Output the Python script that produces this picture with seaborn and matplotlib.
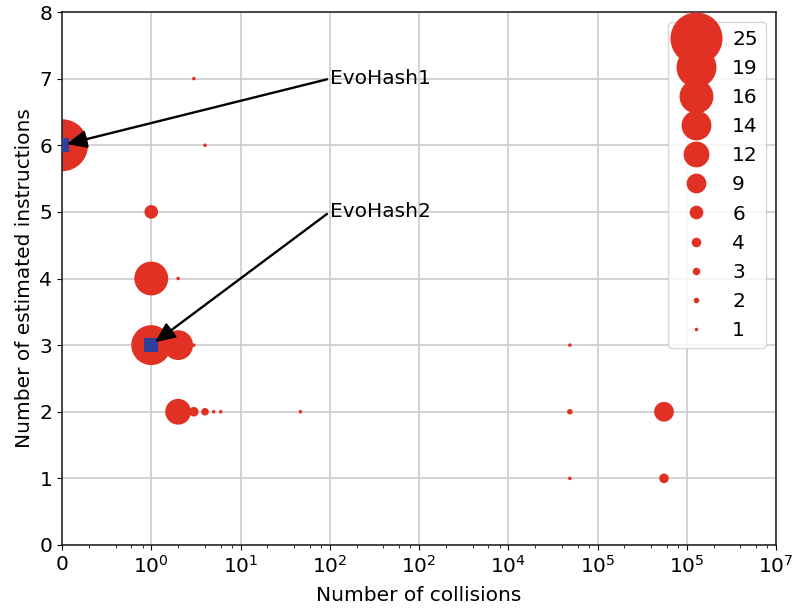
import matplotlib
matplotlib.use("Agg")
import matplotlib.pyplot as plt
from matplotlib.lines import Line2D
from matplotlib.ticker import FixedLocator, NullFormatter
import seaborn as sns
import pandas as pd

# Data: (collisions, estimated instructions, number of hash functions)
collisions = [0, 3, 4, 1, 1, 2, 1, 2, 3, 2, 3, 4, 5, 6, 47, 49000, 49000, 49000, 556000, 556000]
instructions = [6, 7, 6, 5, 4, 4, 3, 3, 3, 2, 2, 2, 2, 2, 2, 3, 2, 1, 2, 1]
counts = [25, 1, 1, 6, 16, 1, 19, 14, 1, 12, 4, 3, 1, 1, 1, 1, 2, 1, 9, 4]

# Highlighted evolved hashes
evo_names = ["EvoHash1", "EvoHash2"]
evo_collisions = [0, 1]
evo_instructions = [6, 3]
evo_text_x = [100, 100]
evo_text_y = [7, 5]

legend_values = [25, 19, 16, 14, 12, 9, 6, 4, 3, 2, 1]

x_ticks = [0.1, 1, 10, 100, 1000, 1e4, 1e5, 1e6, 1e7]
x_tick_labels = ["0", "$10^0$", "$10^1$", "$10^2$", "$10^2$", "$10^4$", "$10^5$", "$10^5$", "$10^7$"]

RED = "#e13124"
BLUE = "#2d3f9c"
ZERO_POS = 0.1  # where "0" sits on the log axis
FS = 14.5


def to_pos(x):
    return [ZERO_POS if v == 0 else v for v in x]


def marker_pt(v):
    # marker diameter in points
    return 1.455 * v + 1.1


plt.rcParams["font.size"] = FS
plt.rcParams["font.family"] = ["DejaVu Sans"]

df = pd.DataFrame({"collisions": to_pos(collisions), "instructions": instructions, "count": counts})
df["area"] = [marker_pt(v) ** 2 for v in counts]

fig = plt.figure(figsize=(7.95, 6.11), dpi=100)
ax = fig.add_axes([62 / 795, 66 / 611, 714 / 795, 533 / 611])

ax.set_xscale("log")
sns.scatterplot(data=df, x="collisions", y="instructions", s=df["area"], color=RED,
                edgecolor="none", linewidth=0, legend=False, ax=ax, zorder=2)

evo = pd.DataFrame({"collisions": to_pos(evo_collisions), "instructions": evo_instructions})
sns.scatterplot(data=evo, x="collisions", y="instructions", marker="s", s=100, color=BLUE,
                edgecolor="none", linewidth=0, legend=False, ax=ax, zorder=3)

for name, cx, cy, tx, ty in zip(evo_names, to_pos(evo_collisions), evo_instructions, evo_text_x, evo_text_y):
    ax.annotate(name, xy=(cx, cy), xytext=(tx, ty), ha="left", va="center", fontsize=FS,
                arrowprops=dict(arrowstyle="-|>,head_length=1.0,head_width=0.45", color="black",
                                lw=1.7, relpos=(0, 0.5), shrinkA=0, shrinkB=3.5,
                                mutation_scale=12), zorder=4)

ax.set_xlim(0.1, 1e7)
ax.set_ylim(0, 8)
ax.xaxis.set_major_locator(FixedLocator(x_ticks))
ax.set_xticklabels(x_tick_labels)
minor = [d * m for d in x_ticks[:-1] for m in (2, 4, 6, 8)]
ax.xaxis.set_minor_locator(FixedLocator(minor))
ax.xaxis.set_minor_formatter(NullFormatter())
ax.set_yticks(range(0, 9))
ax.tick_params(labelsize=FS)

ax.set_axisbelow(True)
ax.grid(True, which="major", color="#cccccc", linewidth=1.2)
for sp in ax.spines.values():
    sp.set_color("#1a1a1a")
    sp.set_linewidth(1.1)

ax.set_xlabel("Number of collisions", fontsize=FS, labelpad=7)
ax.set_ylabel("Number of estimated instructions", fontsize=FS)

handles = [Line2D([], [], linestyle="", marker="o", markersize=marker_pt(v), color=RED,
                  markeredgewidth=0) for v in legend_values]
ax.legend(handles, [str(v) for v in legend_values], loc="upper right", fontsize=FS,
          labelspacing=0.5)

fig.savefig("out.png", dpi=100)
